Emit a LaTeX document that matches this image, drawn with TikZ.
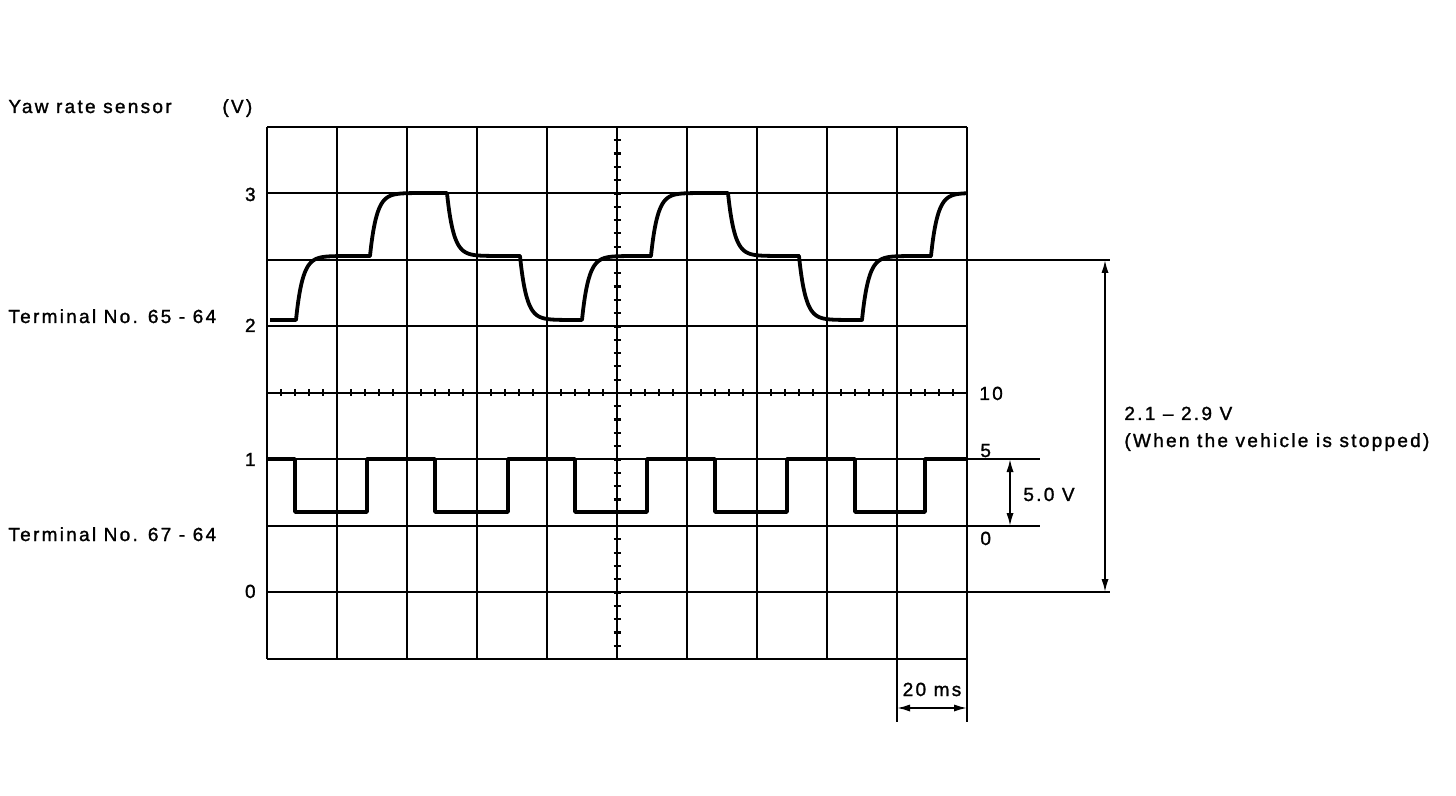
\documentclass[tikz,border=0pt]{standalone}
\usepackage{fontspec}
\setmainfont{Liberation Sans}[LetterSpace=12,FakeBold=1.4]
\usetikzlibrary{arrows.meta}
\begin{document}
\begin{tikzpicture}[x=0.5pt,y=-0.5pt,
  lbl/.style={font=\fontsize{9.5}{11}\selectfont, inner sep=0pt},
  gridline/.style={line width=1.45pt},
  thinline/.style={line width=0.9pt},
  trace/.style={line width=1.9pt, line join=round},
  tickline/.style={line width=1.1pt},
  dimarrow/.style={line width=0.9pt, {Latex[length=6.5pt,width=3.6pt]}-{Latex[length=6.5pt,width=3.6pt]}}
]
\useasboundingbox (0,0) rectangle (1456,796);
% grid
\foreach \gx in {267,337,407,477,547,617,687,757,827} \draw[gridline] (\gx,127) -- (\gx,659);
\foreach \gx in {897,967} \draw[gridline] (\gx,127) -- (\gx,722);
\foreach \gy in {127,193,260,326,393,459,526,592,659} \draw[gridline] (267,\gy) -- (967,\gy);
% extension lines
\draw[thinline] (967,260) -- (1110,260);
\draw[thinline] (967,592) -- (1110,592);
\draw[thinline] (967,459) -- (1040,459);
\draw[thinline] (967,526) -- (1040,526);
% ticks on centre axes
\foreach \k in {1,...,39} \draw[tickline] (613.5,{127+\k*13.3}) -- (620.5,{127+\k*13.3});
\foreach \k in {1,...,49} \draw[tickline] ({267+\k*14},389.5) -- ({267+\k*14},396.5);
% yaw rate trace
\def\tau{6.5}
\draw[trace] (270,320) -- (296,320)
  -- plot[domain=0:{sqrt(74)},samples=45] ({296+\x*\x},{256+(320-256)*exp(-\x*\x/\tau)})
  -- plot[domain=0:{sqrt(77)},samples=45] ({370+\x*\x},{193+(256-193)*exp(-\x*\x/\tau)})
  -- plot[domain=0:{sqrt(73)},samples=45] ({447+\x*\x},{256+(193-256)*exp(-\x*\x/\tau)})
  -- plot[domain=0:{sqrt(62)},samples=45] ({520+\x*\x},{320+(256-320)*exp(-\x*\x/\tau)})
  -- plot[domain=0:{sqrt(69)},samples=45] ({582+\x*\x},{256+(320-256)*exp(-\x*\x/\tau)})
  -- plot[domain=0:{sqrt(77)},samples=45] ({651+\x*\x},{193+(256-193)*exp(-\x*\x/\tau)})
  -- plot[domain=0:{sqrt(71)},samples=45] ({728+\x*\x},{256+(193-256)*exp(-\x*\x/\tau)})
  -- plot[domain=0:{sqrt(63)},samples=45] ({799+\x*\x},{320+(256-320)*exp(-\x*\x/\tau)})
  -- plot[domain=0:{sqrt(69)},samples=45] ({862+\x*\x},{256+(320-256)*exp(-\x*\x/\tau)})
  -- plot[domain=0:{sqrt(36)},samples=45] ({931+\x*\x},{193+(256-193)*exp(-\x*\x/\tau)});
% square wave trace
\draw[trace] (268,459) -- (295,459) -- (295,512) -- (367,512) -- (367,459)
  -- (435,459) -- (435,512) -- (508,512) -- (508,459)
  -- (575,459) -- (575,512) -- (647,512) -- (647,459)
  -- (715,459) -- (715,512) -- (787,512) -- (787,459)
  -- (855,459) -- (855,512) -- (925,512) -- (925,459) -- (967,459);
% labels
\node[lbl,anchor=base west] (title) at (8,113) {Yaw rate sensor};
\node[lbl,anchor=base west] (unit) at (222,113) {(V)};
\node[lbl,anchor=base east] (v3) at (256,201) {3};
\node[lbl,anchor=base east] (v2) at (256,332) {2};
\node[lbl,anchor=base east] (v1) at (256,466) {1};
\node[lbl,anchor=base east] (v0) at (256,598) {0};
\node[lbl,anchor=base west] (t65) at (8,323) {Terminal No. 65 - 64};
\node[lbl,anchor=base west] (t67) at (8,541) {Terminal No. 67 - 64};
\node[lbl,anchor=base west] (r10) at (979,400) {10};
\node[lbl,anchor=base west] (r5) at (980,457) {5};
\node[lbl,anchor=base west] (r0) at (980,545) {0};
\node[lbl,anchor=base west] (fivev) at (1023,501) {5.0 V};
\node[lbl,anchor=base west] (range) at (1124,420) {2.1 – 2.9 V};
\node[lbl,anchor=base west] (stopped) at (1124,447) {(When the vehicle is stopped)};
\node[lbl,anchor=base] (ms) at (932,696) {20 ms};
% dimension arrows
\coordinate (a1) at (1105,260);
\coordinate (a2) at (1105,592);
\coordinate (b1) at (1010,459);
\coordinate (b2) at (1010,526);
\coordinate (c1) at (897,708);
\coordinate (c2) at (967,708);
\draw[dimarrow] (a1) -- (a2);
\draw[dimarrow] (b1) -- (b2);
\draw[dimarrow] (c1) -- (c2);
\end{tikzpicture}
\end{document}
